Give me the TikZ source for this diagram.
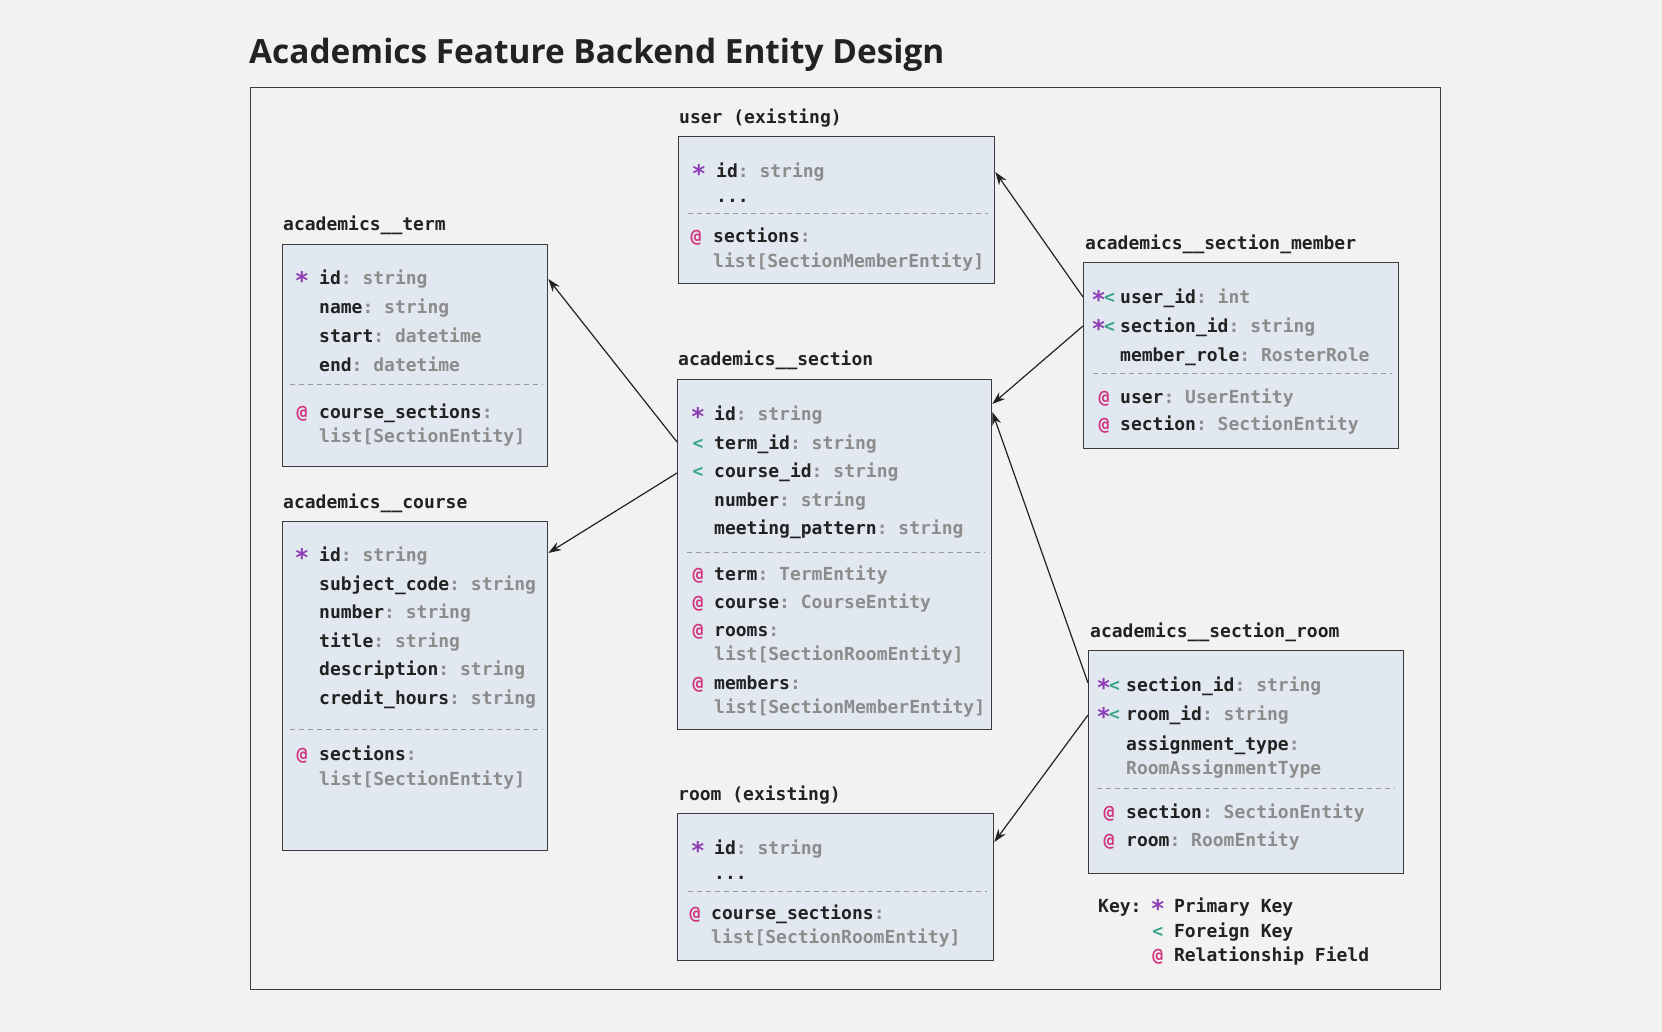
\documentclass[tikz,border=0pt]{standalone}
\usepackage{fontspec}
\setmonofont{DejaVu Sans Mono}
\newfontfamily\titlefont{Open Sans}
\usetikzlibrary{arrows.meta}
\definecolor{bgc}{HTML}{F2F2F2}
\definecolor{boxfill}{HTML}{E1E8F0}
\definecolor{boxline}{HTML}{3C3C3C}
\definecolor{ink}{HTML}{222222}
\definecolor{typec}{HTML}{8C8C8C}
\definecolor{dashc}{HTML}{9A9A9A}
\definecolor{pkc}{HTML}{8E3FB5}
\definecolor{fkc}{HTML}{3AA58B}
\definecolor{relc}{HTML}{D1347E}
\newcommand{\mono}{\ttfamily\bfseries\fontsize{18}{20}\selectfont}
\newcommand{\PK}{\textcolor{pkc}{\makebox[0.602em]{\raisebox{-5.5pt}{\scalebox{1.35}{*}}}}}
\newcommand{\FK}{\textcolor{fkc}{<}}
\newcommand{\RL}{\textcolor{relc}{@}}
\tikzset{
  entbox/.style={draw=boxline, fill=boxfill, line width=1.3pt, inner sep=0pt, anchor=north west},
  enttitle/.style={anchor=mid west, inner sep=0pt, font=\mono, text=ink, yshift=-4pt},
  fieldtext/.style={anchor=mid west, inner sep=0pt, font=\mono, text=ink, yshift=-4pt},
  typetext/.style={anchor=mid west, inner sep=0pt, font=\mono, text=typec, yshift=-4pt},
  symtext/.style={anchor=mid, inner sep=0pt, font=\mono, yshift=-4pt},
  sepline/.style={draw=dashc, line width=1pt, dash pattern=on 5pt off 4pt},
  relarrow/.style={draw=ink, line width=1.2pt, -{Stealth[length=13pt,width=9pt]}},
}
% field: name, x, y, field, type
\newcommand{\fld}[5]{\node[fieldtext] (#1) at (#2,#3) {#4\textcolor{typec}{: #5}};}
\newcommand{\fldc}[4]{\node[fieldtext] (#1) at (#2,#3) {#4\textcolor{typec}{:}};}
\newcommand{\typ}[4]{\node[typetext] (#1) at (#2,#3) {#4};}
\newcommand{\sy}[4]{\node[symtext] (#1) at (#2,#3) {#4};}
\begin{document}
\begin{tikzpicture}[x=1pt,y=-1pt]
\fill[bgc] (0,0) rectangle (1662,1032);
\useasboundingbox (0,0) rectangle (1662,1032);

\node[anchor=base west, inner sep=0pt, font=\titlefont\bfseries\fontsize{33.4}{40}\selectfont, text=ink] (title) at (249,64) {Academics Feature Backend Entity Design};
\node[draw=boxline, line width=1.3pt, minimum width=1190pt, minimum height=902pt, anchor=north west, inner sep=0pt] (frame) at (250,87) {};

% ---------------- user
\node[enttitle] (userT) at (679,117) {user (existing)};
\node[entbox, minimum width=316pt, minimum height=147pt] (user) at (678,136) {};
\sy{u1s}{699}{171}{\PK}
\fld{u1}{716}{171}{id}{string}
\node[fieldtext] (u2) at (716,196) {...};
\draw[sepline] (688,214) -- (988,214);
\sy{u3s}{696}{236}{\RL}
\fldc{u3}{713}{236}{sections}
\typ{u4}{713}{261}{list[SectionMemberEntity]}

% ---------------- term
\node[enttitle] (termT) at (283,224) {academics\_\_term};
\node[entbox, minimum width=265pt, minimum height=222pt] (term) at (282,244) {};
\sy{t1s}{302}{278}{\PK}
\fld{t1}{319}{278}{id}{string}
\fld{t2}{319}{307}{name}{string}
\fld{t3}{319}{336}{start}{datetime}
\fld{t4}{319}{365}{end}{datetime}
\draw[sepline] (290,384) -- (543,384);
\sy{t5s}{302}{412}{\RL}
\fldc{t5}{319}{412}{course\_sections}
\typ{t6}{319}{436}{list[SectionEntity]}

% ---------------- section member
\node[enttitle] (smT) at (1085,243) {academics\_\_section\_member};
\node[entbox, minimum width=315pt, minimum height=186pt] (sm) at (1083,262) {};
\sy{m1s}{1104}{297}{\PK\FK}
\fld{m1}{1120}{297}{user\_id}{int}
\sy{m2s}{1104}{326}{\PK\FK}
\fld{m2}{1120}{326}{section\_id}{string}
\fld{m3}{1120}{355}{member\_role}{RosterRole}
\draw[sepline] (1093,373) -- (1392,373);
\sy{m4s}{1104}{397}{\RL}
\fld{m4}{1120}{397}{user}{UserEntity}
\sy{m5s}{1104}{424}{\RL}
\fld{m5}{1120}{424}{section}{SectionEntity}

% ---------------- section
\node[enttitle] (secT) at (678,359) {academics\_\_section};
\node[entbox, minimum width=314pt, minimum height=350pt] (sec) at (677,379) {};
\sy{s1s}{698}{414}{\PK}
\fld{s1}{714}{414}{id}{string}
\sy{s2s}{698}{443}{\FK}
\fld{s2}{714}{443}{term\_id}{string}
\sy{s3s}{698}{471}{\FK}
\fld{s3}{714}{471}{course\_id}{string}
\fld{s4}{714}{500}{number}{string}
\fld{s5}{714}{528}{meeting\_pattern}{string}
\draw[sepline] (687,552) -- (985,552);
\sy{s6s}{698}{574}{\RL}
\fld{s6}{714}{574}{term}{TermEntity}
\sy{s7s}{698}{602}{\RL}
\fld{s7}{714}{602}{course}{CourseEntity}
\sy{s8s}{698}{630}{\RL}
\fldc{s8}{714}{630}{rooms}
\typ{s9}{714}{654}{list[SectionRoomEntity]}
\sy{s10s}{698}{683}{\RL}
\fldc{s10}{714}{683}{members}
\typ{s11}{714}{707}{list[SectionMemberEntity]}

% ---------------- course
\node[enttitle] (courseT) at (283,502) {academics\_\_course};
\node[entbox, minimum width=265pt, minimum height=329pt] (course) at (282,521) {};
\sy{c1s}{302}{555}{\PK}
\fld{c1}{319}{555}{id}{string}
\fld{c2}{319}{584}{subject\_code}{string}
\fld{c3}{319}{612}{number}{string}
\fld{c4}{319}{641}{title}{string}
\fld{c5}{319}{669}{description}{string}
\fld{c6}{319}{698}{credit\_hours}{string}
\draw[sepline] (290,729) -- (543,729);
\sy{c7s}{302}{754}{\RL}
\fldc{c7}{319}{754}{sections}
\typ{c8}{319}{779}{list[SectionEntity]}

% ---------------- section room
\node[enttitle] (srT) at (1090,631) {academics\_\_section\_room};
\node[entbox, minimum width=315pt, minimum height=223pt] (sr) at (1088,650) {};
\sy{r1s}{1109}{685}{\PK\FK}
\fld{r1}{1126}{685}{section\_id}{string}
\sy{r2s}{1109}{714}{\PK\FK}
\fld{r2}{1126}{714}{room\_id}{string}
\fldc{r3}{1126}{744}{assignment\_type}
\typ{r4}{1126}{768}{RoomAssignmentType}
\draw[sepline] (1097,788) -- (1395,788);
\sy{r5s}{1109}{812}{\RL}
\fld{r5}{1126}{812}{section}{SectionEntity}
\sy{r6s}{1109}{840}{\RL}
\fld{r6}{1126}{840}{room}{RoomEntity}

% ---------------- room
\node[enttitle] (roomT) at (678,794) {room (existing)};
\node[entbox, minimum width=316pt, minimum height=147pt] (room) at (677,813) {};
\sy{o1s}{698}{848}{\PK}
\fld{o1}{714}{848}{id}{string}
\node[fieldtext] (o2) at (714,873) {...};
\draw[sepline] (688,891) -- (987,891);
\sy{o3s}{695}{913}{\RL}
\fldc{o3}{711}{913}{course\_sections}
\typ{o4}{711}{937}{list[SectionRoomEntity]}

% ---------------- key
\node[fieldtext] (key1) at (1098,906) {Key: \PK{} Primary Key};
\node[fieldtext] (key2) at (1098,931) {\hphantom{Key: }\FK{} Foreign Key};
\node[fieldtext] (key3) at (1098,955) {\hphantom{Key: }\RL{} Relationship Field};

% ---------------- relations
\draw[relarrow] ([yshift=-35pt]sm.north west) -- ([yshift=-36pt]user.north east);
\draw[relarrow] ([yshift=-64pt]sm.north west) -- ([yshift=-25pt]sec.north east);
\draw[relarrow] ([yshift=-63pt]sec.north west) -- ([yshift=-35pt]term.north east);
\draw[relarrow] ([yshift=-94pt]sec.north west) -- ([yshift=-32pt]course.north east);
\draw[relarrow] ([yshift=-33pt]sr.north west) -- ([yshift=-33pt]sec.north east);
\draw[relarrow] ([yshift=-65pt]sr.north west) -- ([yshift=-29pt]room.north east);
\end{tikzpicture}
\end{document}
